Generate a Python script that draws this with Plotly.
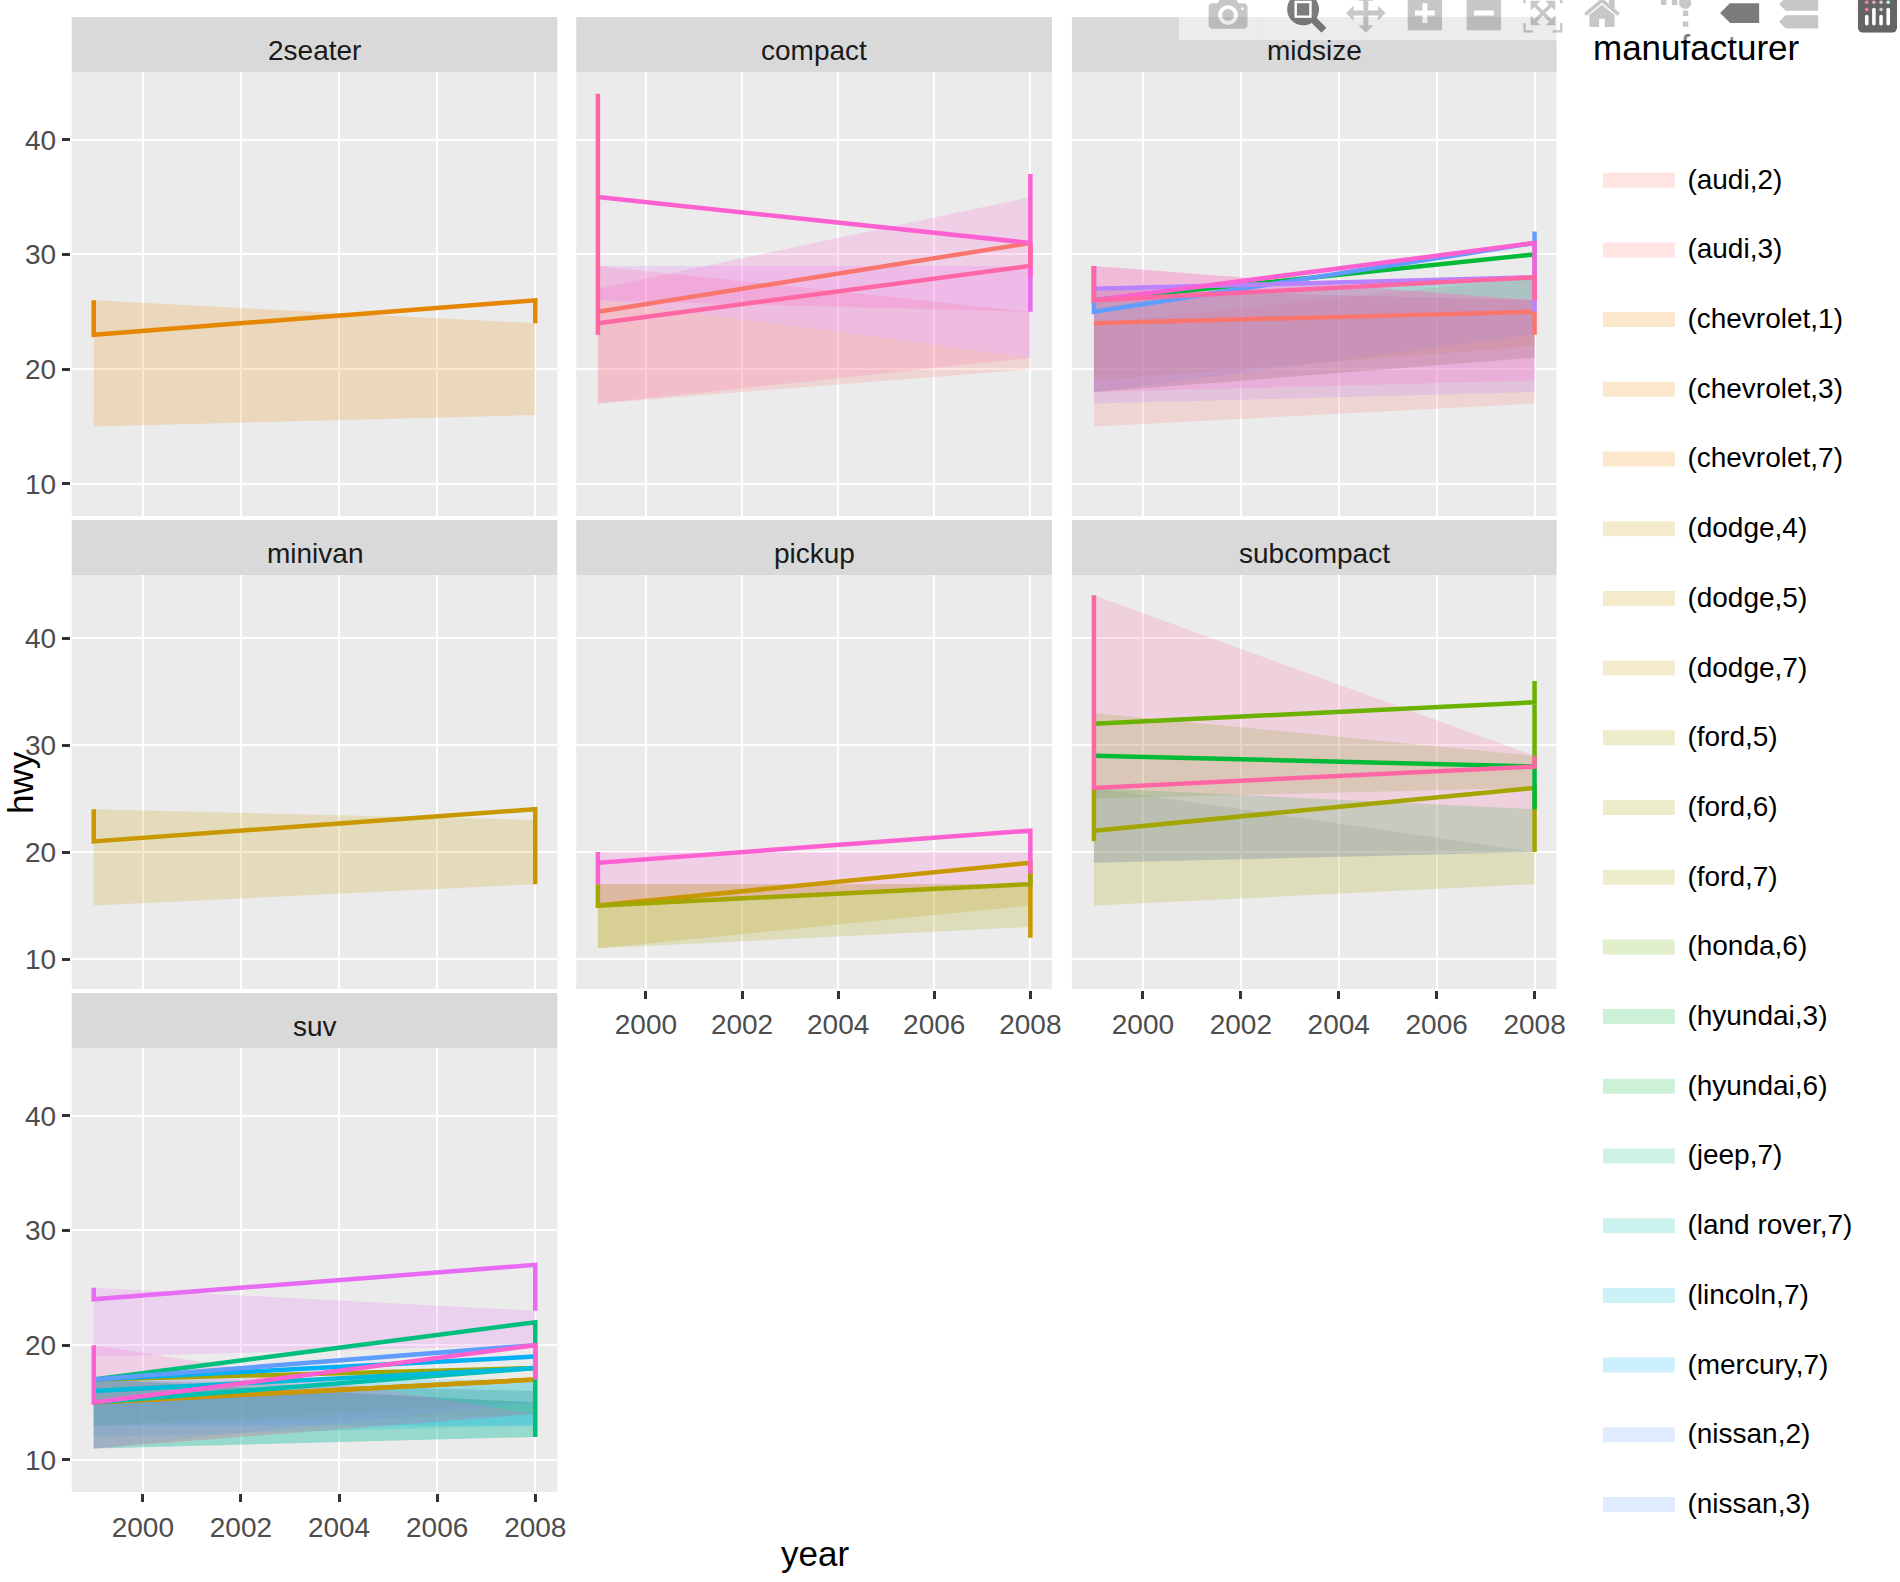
import plotly.graph_objects as go

W, H = 1900, 1582
FONT = "Liberation Sans"

FACETS = ["2seater", "compact", "midsize", "minivan", "pickup", "subcompact", "suv"]
YEARS = [1999, 2008]
X_TICKS = [2000, 2002, 2004, 2006, 2008]
Y_TICKS = [10, 20, 30, 40]
X_RANGE = [1998.55, 2008.45]
Y_RANGE = [7.2, 45.9]
LEGEND_SHOWN = 20  # the reference's legend shows its first 20 entries

COLORS = {
    "audi": "248,118,109", "chevrolet": "229,135,0", "dodge": "201,152,0", "ford": "163,165,0",
    "honda": "107,177,0", "hyundai": "0,186,56", "jeep": "0,191,125", "land rover": "0,192,175",
    "lincoln": "0,188,216", "mercury": "0,176,246", "nissan": "97,156,255", "pontiac": "185,131,255",
    "subaru": "231,107,243", "toyota": "253,97,209", "volkswagen": "255,103,164",
}

# ribbons: one per legend entry
R_MAKER = ["audi", "audi", "chevrolet", "chevrolet", "chevrolet", "dodge", "dodge", "dodge",
           "ford", "ford", "ford", "honda", "hyundai", "hyundai", "jeep", "land rover", "lincoln",
           "mercury", "nissan", "nissan", "nissan", "pontiac", "subaru", "subaru", "subaru",
           "toyota", "toyota", "toyota", "toyota", "volkswagen", "volkswagen", "volkswagen"]
R_PANEL = [2, 3, 1, 3, 7, 4, 5, 7, 5, 6, 7, 6, 3, 6, 7, 7, 7, 7, 2, 3, 7, 3, 2, 6, 7, 2, 3, 5, 7, 2, 3, 6]
R_HI99 = [26, 24, 26, 27, 17, 24, 17, 17, 17, 26, 17, 33, 26, 26, 17, 15, 17, 17, 27, 27, 17, 27, 29, 26, 25, 27, 29, 20, 20, 29, 29, 44]
R_HI08 = [21, 28, 24, 26, 16, 23, 17, 15, 17, 20, 15, 29, 28, 24, 15, 17, 17, 16, 26, 28, 15, 26, 29, 20, 23, 35, 26, 20, 14, 25, 26, 29]
R_LO99 = [17, 15, 15, 19, 11, 15, 11, 13, 11, 15, 13, 25, 18, 19, 11, 11, 12, 13, 27, 18, 11, 17, 26, 19, 19, 26, 18, 15, 11, 17, 18, 26]
R_LO08 = [20, 17, 16, 22, 14, 17, 15, 15, 13, 17, 14, 26, 21, 20, 12, 12, 13, 13, 26, 23, 15, 18, 21, 20, 20, 25, 19, 17, 14, 21, 21, 20]

# lines: y visited at 1999, then y visited at 2008
L_MAKER = ["chevrolet", "audi", "subaru", "toyota", "volkswagen",
           "audi", "hyundai", "nissan", "pontiac", "toyota", "volkswagen",
           "dodge",
           "dodge", "ford", "toyota",
           "ford", "honda", "hyundai", "volkswagen",
           "chevrolet", "dodge", "ford", "jeep", "land rover", "lincoln", "mercury", "nissan", "subaru", "toyota"]
L_PANEL = [1, 2, 2, 2, 2,
           3, 3, 3, 3, 3, 3,
           4,
           5, 5, 5,
           6, 6, 6, 6,
           7, 7, 7, 7, 7, 7, 7, 7, 7, 7]
L_Y99 = [[26, 23], [25], [], [35], [44, 23, 24],
         [24], [26], [29, 25], [27], [29, 26], [29, 26],
         [24, 21],
         [15], [17, 15], [20, 17, 19],
         [26, 21, 22], [32], [29], [44, 26],
         [15], [15], [17], [17], [15], [16], [17], [17], [25, 24], [20, 15]]
L_Y08 = [[26, 24], [31], [29, 25], [31, 37, 28], [29, 31],
         [25, 23], [30], [31, 32, 28], [28, 25], [31, 26], [28, 26],
         [24, 17],
         [19, 12], [17, 18], [22, 18],
         [26, 20], [34, 36, 28], [28, 24], [28, 29],
         [17], [17], [18], [22, 12], [18], [18], [19], [20], [27, 23], [20, 17]]

# panel pixel boxes: left, right, top, bottom, strip top
COL_PX = [(72, 560), (579, 1057), (1077, 1564)]
ROW_PX = [(72, 516, 17), (575, 989, 520), (1048, 1492, 993)]
P_CELL = {1: (0, 0), 2: (1, 0), 3: (2, 0), 4: (0, 1), 5: (1, 1), 6: (2, 1), 7: (0, 2)}
SHOW_X = {5, 6, 7}
SHOW_Y = {1, 4, 7}

fig = go.Figure()

for i, (m, p, a, b, c, d) in enumerate(zip(R_MAKER, R_PANEL, R_HI99, R_HI08, R_LO99, R_LO08)):
    name = f"({m},{p})"
    fig.add_trace(go.Scatter(
        x=[YEARS[0], YEARS[1], YEARS[1], YEARS[0], YEARS[0]], y=[a, b, d, c, a],
        mode="lines", fill="toself", fillcolor=f"rgba({COLORS[m]},0.2)", line=dict(width=0),
        name=name, legendgroup=name, showlegend=i < LEGEND_SHOWN,
        xaxis=f"x{p}", yaxis=f"y{p}", hoverinfo="x+y+name"))

for m, p, y0, y1 in zip(L_MAKER, L_PANEL, L_Y99, L_Y08):
    name = f"({m},{p})"
    fig.add_trace(go.Scatter(
        x=[YEARS[0]] * len(y0) + [YEARS[1]] * len(y1), y=y0 + y1,
        mode="lines", line=dict(color=f"rgb({COLORS[m]})", width=4.5),
        name=name, legendgroup=name, showlegend=False, xaxis=f"x{p}", yaxis=f"y{p}"))

layout = dict(
    width=W, height=H, margin=dict(l=0, r=0, t=0, b=0), autosize=False,
    paper_bgcolor="white", plot_bgcolor="#EBEBEB",
    font=dict(family=FONT, color="black"),
    showlegend=True,
    legend=dict(x=1606 / W, y=1 - 153 / H, xanchor="left", yanchor="top",
                font=dict(size=28, family=FONT, color="black"),
                itemwidth=79, tracegroupgap=30.3,
                bgcolor="rgba(255,255,255,0)"),
    modebar=dict(bgcolor="rgba(255,255,255,0.5)"),
)

shapes, annotations = [], []
for p, name in enumerate(FACETS, start=1):
    cx, ry = P_CELL[p]
    l, r = COL_PX[cx]
    t, b, st = ROW_PX[ry]
    axis_common = dict(showgrid=True, gridcolor="white", gridwidth=2.4, zeroline=False,
                       showline=True, linecolor="rgba(0,0,0,0)", linewidth=2,
                       tickfont=dict(size=28, family=FONT, color="#4D4D4D"))
    layout[f"xaxis{p}"] = dict(
        domain=[l / W, r / W], anchor=f"y{p}", range=X_RANGE, tickvals=X_TICKS,
        ticktext=[str(v) for v in X_TICKS], showticklabels=p in SHOW_X,
        ticks="outside" if p in SHOW_X else "", ticklen=8, tickwidth=2.5, tickcolor="#333333",
        ticklabelstandoff=1, **axis_common)
    layout[f"yaxis{p}"] = dict(
        domain=[1 - b / H, 1 - t / H], anchor=f"x{p}", range=Y_RANGE, tickvals=Y_TICKS,
        ticktext=[str(v) for v in Y_TICKS], showticklabels=p in SHOW_Y,
        ticks="outside" if p in SHOW_Y else "", ticklen=8, tickwidth=2.5, tickcolor="#333333",
        **axis_common)
    shapes.append(dict(type="rect", xref="paper", yref="paper", x0=l / W, x1=r / W,
                       y0=1 - t / H, y1=1 - st / H, fillcolor="#D9D9D9", line=dict(width=0), layer="below"))
    annotations.append(dict(text=name, xref="paper", yref="paper", x=(l + r) / 2 / W, y=1 - ((t + st) / 2 + 6) / H,
                            showarrow=False, xanchor="center", yanchor="middle",
                            font=dict(size=28, family=FONT, color="#1A1A1A")))

annotations += [
    dict(text="manufacturer", xref="paper", yref="paper", x=1599 / W, y=1 - 48 / H, showarrow=False,
         xanchor="left", yanchor="middle", font=dict(size=35, family=FONT, color="black")),
    dict(text="year", xref="paper", yref="paper", x=819 / W, y=1 - 1553 / H, showarrow=False,
         xanchor="center", yanchor="middle", font=dict(size=35, family=FONT, color="black")),
    dict(text="hwy", xref="paper", yref="paper", x=21 / W, y=1 - 782 / H, showarrow=False, textangle=-90,
         xanchor="center", yanchor="middle", font=dict(size=35, family=FONT, color="black")),
]
layout["shapes"] = shapes
layout["annotations"] = annotations
fig.update_layout(**layout)

CONFIG = dict(
    displayModeBar=True, displaylogo=True, responsive=False,
    modeBarButtons=[["toImage"], ["zoom2d", "pan2d", "zoomIn2d", "zoomOut2d", "autoScale2d", "resetScale2d"],
                    ["toggleSpikelines", "hoverClosestCartesian", "hoverCompareCartesian"]],
)
POST = """
document.body.style.margin = '0';
document.body.style.overflow = 'hidden';
document.documentElement.style.overflow = 'hidden';
var s = document.createElement('style');
s.textContent = '.modebar{transform:scale(2.46);transform-origin:top right;top:-14px !important;right:-7px !important;}'
  + '.svg-container{overflow:hidden !important;}'
  + '.legend .legendfill path{transform:scale(0.91,2.5);}'
  + '.modebar-btn--logo{opacity:0.6;}';
document.head.appendChild(s);
"""
fig.write_html("out.html", config=CONFIG, post_script=POST)
